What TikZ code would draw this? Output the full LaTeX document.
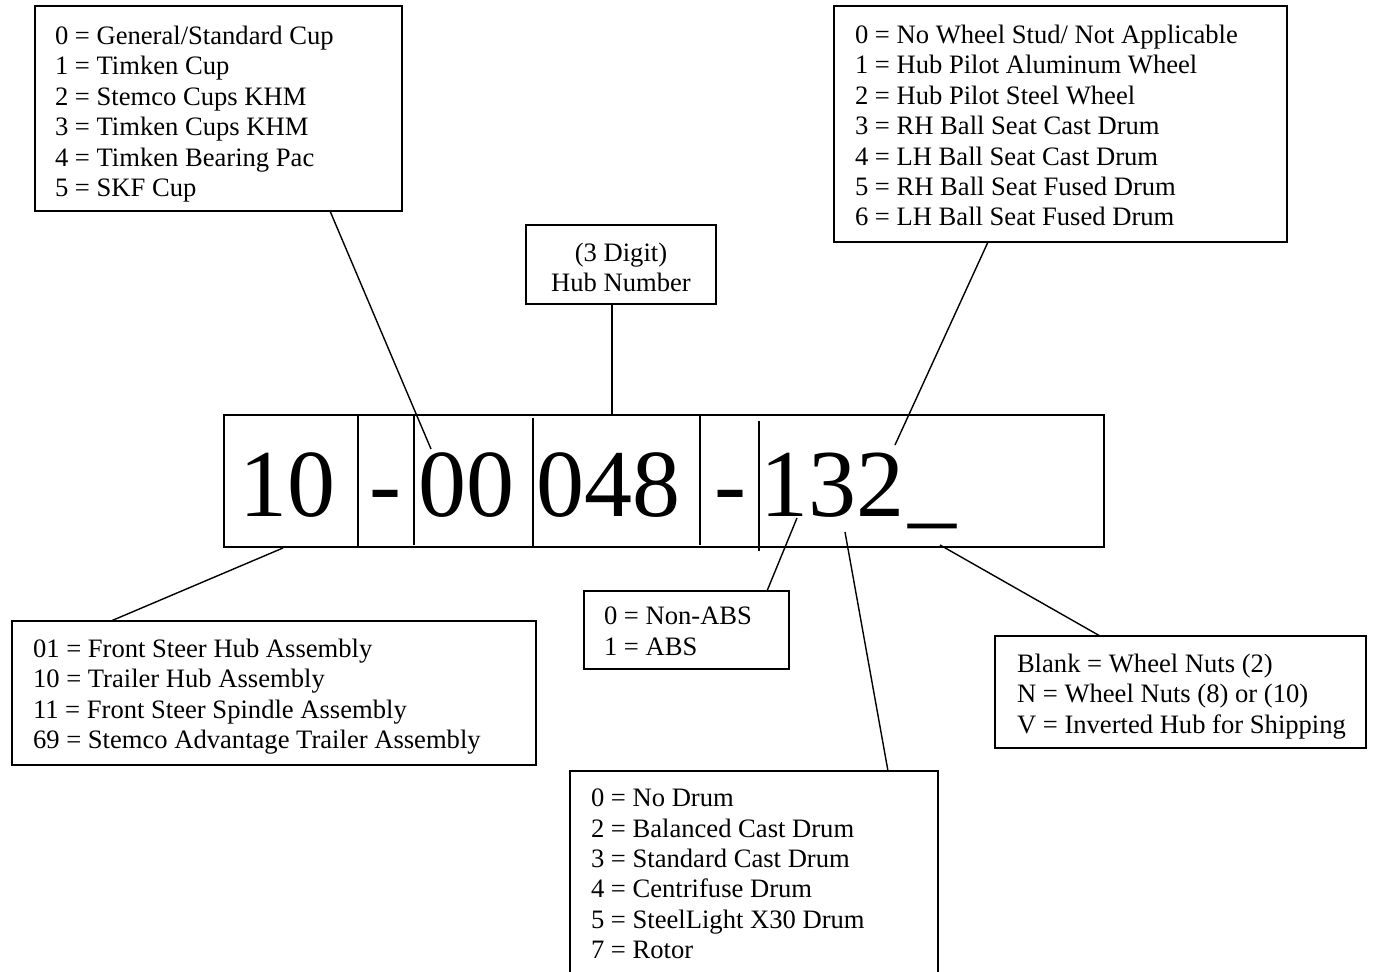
\documentclass[tikz,border=0pt]{standalone}
\usepackage{fontspec}
\setmainfont{Liberation Serif}
\usetikzlibrary{calc}
\begin{document}
\begin{tikzpicture}[x=0.5pt,y=-0.5pt,
  box/.style={draw, line width=1pt, inner sep=0pt, outer sep=0pt, anchor=north west},
  txt/.style={inner sep=0pt, outer sep=0pt, align=left, anchor=north west, font=\fontsize{13.3}{15.2}\selectfont},
  big/.style={inner sep=0pt, outer sep=0pt, anchor=base, font=\fontsize{48}{48}\selectfont},
  link/.style={line width=0.7pt},
  divider/.style={line width=0.8pt}]
\clip (0,0) rectangle (1373,972);
\fill[white] (0,0) rectangle (1373,972);

% main code box
\node[box, minimum width=440pt, minimum height=66pt] (code) at (224,415) {};
\draw[divider] (358,416) -- (358,547);
\draw[divider] (414,416) -- (414,545);
\draw[divider] (533,418) -- (533,547);
\draw[divider] (700,416) -- (700,545);
\draw[divider] (759,421) -- (759,551);
\node[big] (d10) at (287,517) {10};
\node[big] (dash1) at (385,517) {-};
\node[big] (d00) at (466,517) {00};
\node[big] (d048) at (608,517) {048};
\node[big] (dash2) at (730,517) {-};
\node[big] (d132) at (832,517) {132};
\node[big] (dus) at (932,517) {\_};

% top-left box
\node[box, minimum width=183.5pt, minimum height=102.5pt] (cup) at (35,6) {};
\node[txt] (cuptxt) at (55,26) {0 = General/Standard Cup\\1 = Timken Cup\\2 = Stemco Cups KHM\\3 = Timken Cups KHM\\4 = Timken Bearing Pac\\5 = SKF Cup};

% hub number box
\node[box, minimum width=95pt, minimum height=39.5pt] (hub) at (526,225) {};
\node[txt, align=center, anchor=north] (hubtxt) at (621,243) {(3 Digit)\\Hub Number};

% top-right box
\node[box, minimum width=226.5pt, minimum height=118pt] (stud) at (834,6) {};
\node[txt] (studtxt) at (855,25) {0 = No Wheel Stud/ Not Applicable\\1 = Hub Pilot Aluminum Wheel\\2 = Hub Pilot Steel Wheel\\3 = RH Ball Seat Cast Drum\\4 = LH Ball Seat Cast Drum\\5 = RH Ball Seat Fused Drum\\6 = LH Ball Seat Fused Drum};

% bottom-left box
\node[box, minimum width=262pt, minimum height=72pt] (assy) at (12,621) {};
\node[txt] (assytxt) at (33,639) {01 = Front Steer Hub Assembly\\10 = Trailer Hub Assembly\\11 = Front Steer Spindle Assembly\\69 = Stemco Advantage Trailer Assembly};

% ABS box
\node[box, minimum width=102.5pt, minimum height=39pt] (abs) at (584,591) {};
\node[txt] (abstxt) at (604,607) {0 = Non-ABS\\1 = ABS};

% drum box
\node[box, minimum width=184pt, minimum height=107pt] (drum) at (570,771) {};
\node[txt] (drumtxt) at (591,789) {0 = No Drum\\2 = Balanced Cast Drum\\3 = Standard Cast Drum\\4 = Centrifuse Drum\\5 = SteelLight X30 Drum\\7 = Rotor};

% wheel nuts box
\node[box, minimum width=185.5pt, minimum height=56pt] (nuts) at (995,636) {};
\node[txt] (nutstxt) at (1017,654) {Blank = Wheel Nuts (2)\\N = Wheel Nuts (8) or (10)\\V = Inverted Hub for Shipping};

% connector end points on the code box
\coordinate (p00) at (431,449);
\coordinate (p048) at (612,415);
\coordinate (p132) at (895,445);
\coordinate (p10) at (283,548);
\coordinate (pabs) at (797,518);
\coordinate (pdrum) at (845,532);
\coordinate (pnuts) at (940,545);

% connectors
\draw[link] ($(cup.south west)+(295,0)$) -- (p00);
\draw[link] (hub.south -| p048) -- (p048);
\draw[link] ($(stud.south west)+(154,0)$) -- (p132);
\draw[link] ($(assy.north west)+(99,0)$) -- (p10);
\draw[link] ($(abs.north west)+(183,0)$) -- (pabs);
\draw[link] ($(drum.north west)+(318,0)$) -- (pdrum);
\draw[link] ($(nuts.north west)+(105,0)$) -- (pnuts);
\end{tikzpicture}
\end{document}
